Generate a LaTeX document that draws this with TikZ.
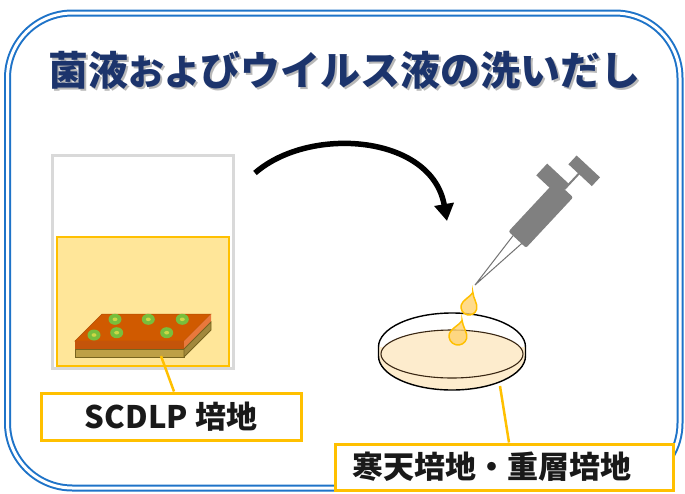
\documentclass[tikz,border=0pt]{standalone}
\usepackage{fontspec}
\newfontfamily\jp{Noto Sans CJK JP}
\usetikzlibrary{arrows.meta}
\definecolor{frameblue}{RGB}{30,115,200}
\definecolor{titlenavy}{RGB}{28,52,108}
\definecolor{gold}{RGB}{255,192,0}
\definecolor{liquid}{RGB}{255,230,153}
\definecolor{beakergray}{RGB}{217,217,217}
\definecolor{agar}{RGB}{208,90,0}
\definecolor{agarfront}{RGB}{196,84,10}
\definecolor{agarside}{RGB}{232,120,60}
\definecolor{baselayer}{RGB}{190,160,70}
\definecolor{baseedge}{RGB}{120,100,30}
\definecolor{colony}{RGB}{120,190,60}
\definecolor{colonycore}{RGB}{205,215,70}
\definecolor{syr}{RGB}{128,128,128}
\definecolor{medium}{RGB}{253,236,205}
\definecolor{dropfill}{RGB}{255,210,110}
\newcommand\mytitletext{菌液{\fontsize{36}{36}\selectfont およ}びウイルス液の洗いだし}
\begin{document}
\begin{tikzpicture}[x=1pt,y=-1pt,
  titlefont/.style={font=\jp\bfseries\fontsize{40}{40}\selectfont},
  labelbox/.style={draw=gold,line width=3pt,fill=white,inner sep=0pt,
    font=\jp\bfseries\fontsize{31}{31}\selectfont,text=black!90},
  leader/.style={draw=gold,line width=2.5pt},
  colonydot/.style={fill=colony},
  dropshape/.style={draw=gold,line width=1.5pt,fill=dropfill,fill opacity=0.8},
  dishline/.style={draw=black,line width=1.4pt}]
\useasboundingbox (0,0) rectangle (685,493);
\fill[white] (0,0) rectangle (685,493);

% double rounded frame
\draw[frameblue,line width=7pt,rounded corners=65pt] (7.5,13) rectangle (680,488);
\draw[white,line width=3pt,rounded corners=65pt] (7.5,13) rectangle (680,488);

% title with soft shadow
\node[titlefont,text=black!55,opacity=0.5] (titleshadow) at (346.5,72.5) {\mytitletext};
\node[titlefont,text=titlenavy] (title) at (344,70) {\mytitletext};

% beaker and liquid
\draw[beakergray,line width=3pt,fill=white] (52,155) rectangle (233,368);
\draw[gold,line width=1.5pt,fill=liquid] (57,237) rectangle (229,366);

% sample slab: agar layer on a base
\filldraw[fill=agar,draw=agar!85!black,line width=0.5pt]
  (75,341) -- (102,314) -- (211,314) -- (184,341) -- cycle;
\fill[agarfront] (75,341) rectangle (184,349);
\fill[agarside] (184,341) -- (211,314) -- (211,322) -- (184,349) -- cycle;
\filldraw[fill=baselayer,draw=baseedge,line width=0.8pt] (75,349) rectangle (184,357);
\filldraw[fill=baselayer!85!black,draw=baseedge,line width=0.8pt]
  (184,349) -- (211,322) -- (211,330) -- (184,357) -- cycle;

% colonies
\foreach \cx/\cy in {115/319.3,148.3/319.3,182.3/319.3,94/335,116.7/332.7,166.7/332.7}{
  \fill[colonydot] (\cx,\cy) ellipse [x radius=6.5,y radius=5.5];
  \fill[colonycore] (\cx,\cy) ellipse [x radius=2.5,y radius=1.8];
}
\coordinate (slabfoot) at (161,356);

% transfer arrow
\coordinate (arrowstart) at (255,173);
\coordinate (arrowend) at (447,221);
\draw[line width=5.5pt,-{Triangle[length=17pt,width=19pt]}]
  (arrowstart) .. controls (310,125) and (432,135) .. (arrowend);

% petri dish
\fill[medium] (378.5,347) -- (378.5,356)
  arc[start angle=180,end angle=0,x radius=73.5,y radius=34] -- (525.5,347) -- cycle;
\filldraw[fill=medium,draw=black!70!brown,line width=1.1pt] (452,354) ellipse [x radius=71,y radius=24];
\draw[dishline] (378.5,356) -- (378.5,347)
  arc[start angle=180,end angle=360,x radius=73.5,y radius=34] -- (525.5,356)
  arc[start angle=0,end angle=180,x radius=73.5,y radius=34];
\coordinate (dishfoot) at (500,386);

% syringe
\begin{scope}[shift={(475,285)},rotate=47,y=1pt]
  \draw[syr!110,line width=1pt] (0,0) -- (64,6) (0,0) -- (64,-6);
  \fill[syr,rounded corners=2pt] (62,-12) rectangle (131,12);
  \fill[syr] (122,0) rectangle (138,30);
  \draw[syr,line width=2pt] (131,0) -- (153,0);
  \fill[syr] (152,-18) rectangle (164,14);
\end{scope}

% drops
\begin{scope}[shift={(469,307)},rotate=-15]
  \filldraw[dropshape] (0,-15) .. controls (-1.5,-10) and (-8,-5) .. (-8,0)
    arc[start angle=180,end angle=0,radius=8] .. controls (8,-5) and (1.5,-10) .. cycle;
\end{scope}
\begin{scope}[shift={(458,336)},rotate=-15]
  \filldraw[dropshape] (0,-16) .. controls (-1.5,-11) and (-9,-5) .. (-9,0)
    arc[start angle=180,end angle=0,radius=9] .. controls (9,-5) and (1.5,-11) .. cycle;
\end{scope}

% labels and leaders
\node[labelbox,minimum width=260pt,minimum height=47pt] (scdlp) at (171,416.5) {SCDLP 培地};
\node[labelbox,minimum width=338pt,minimum height=46pt,text width=338pt,align=left] (agarlabel) at (504,467)
  {\hspace*{17pt}寒天培地・重層培地};
\draw[leader] (slabfoot) -- ([xshift=3pt]scdlp.north);
\draw[leader] (dishfoot) -- ([xshift=5pt]agarlabel.north);
\end{tikzpicture}
\end{document}
